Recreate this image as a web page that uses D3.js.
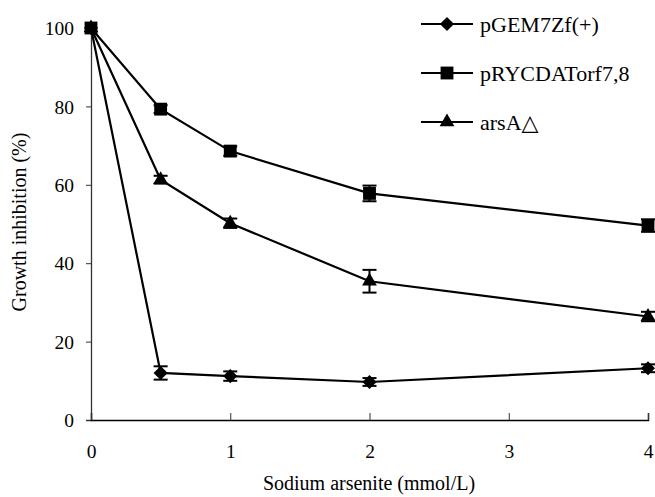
<!DOCTYPE html>
<html><head><meta charset="utf-8">
<script src="https://cdn.jsdelivr.net/npm/d3@7/dist/d3.min.js"></script>
<style>body{margin:0;background:#fff}svg{display:block}
svg text{font-family:"Liberation Serif","Times New Roman",Times,"DejaVu Serif","Noto Serif",serif !important;fill:#000}</style>
</head><body><svg id="c" width="655" height="497"></svg>
<script>
const doses = [0, 0.5, 1, 2, 4];
const seriesNames = ["pGEM7Zf(+)", "pRYCDATorf7,8", "arsA\u25B3"];
const pGEM = [100, 12.0, 11.2, 9.7, 13.2];
const pGEMErr = [0.5, 1.7, 1.2, 1.0, 1.0];
const pRYC = [100, 79.3, 68.6, 57.8, 49.6];
const pRYCErr = [0.5, 1.0, 1.2, 2.0, 1.6];
const arsA = [100, 61.3, 50.2, 35.4, 26.4];
const arsAErr = [0.5, 1.0, 1.2, 2.9, 1.2];
const xTicks = [0, 1, 2, 3, 4];
const yTicks = [0, 20, 40, 60, 80, 100];

const FONT = '"Liberation Serif","Times New Roman",Times,"DejaVu Serif",serif';
const svg = d3.select("#c");
const x = d3.scaleLinear().domain([0, 4]).range([91, 648]);
const y = d3.scaleLinear().domain([0, 100]).range([420, 28]);

const markers = [
  {sym: d3.symbolSquare, size: 100, rot: 45},
  {sym: d3.symbolSquare, size: 165, rot: 0},
  {sym: d3.symbolTriangle, size: 95, rot: 0}
];

const yAxis = d3.axisLeft(y).tickValues(yTicks).tickFormat(d3.format("d")).tickSize(5).tickPadding(12);
const gy = svg.append("g").attr("transform", "translate(91,0)").call(yAxis).attr("font-family", FONT);
gy.select(".domain").attr("stroke", "#333").attr("stroke-width", 1.3);
gy.selectAll(".tick line").attr("stroke", "#333");
gy.selectAll("text").attr("font-size", 19.5).attr("fill", "#000").attr("dy", "0.34em");

const xAxis = d3.axisBottom(x).tickValues(xTicks).tickFormat(d3.format("d")).tickSize(-7).tickPadding(24);
const gx = svg.append("g").attr("transform", "translate(0,420)").call(xAxis).attr("font-family", FONT);
gx.select(".domain").attr("stroke", "#000").attr("stroke-width", 1.5);
gx.selectAll(".tick line").attr("stroke", "#333");
gx.selectAll("text").attr("font-size", 19.5).attr("fill", "#000");

svg.append("text").attr("x", 369).attr("y", 490).attr("text-anchor", "middle")
  .attr("font-family", FONT).attr("font-size", 20).text("Sodium arsenite (mmol/L)");
svg.append("text").attr("transform", "translate(26,222) rotate(-90)").attr("text-anchor", "middle")
  .attr("font-family", FONT).attr("font-size", 20).text("Growth inhibition (%)");

const data = [[pGEM, pGEMErr, 0], [arsA, arsAErr, 2], [pRYC, pRYCErr, 1]];
const line = d3.line().x(d => x(d.x)).y(d => y(d.v));

data.forEach(([vals, errs, i]) => {
  const pts = doses.map((d, k) => ({x: d, v: vals[k], e: errs[k]}));
  const g = svg.append("g");
  g.append("path").datum(pts).attr("d", line).attr("fill", "none").attr("stroke", "#000").attr("stroke-width", 2.2);
  const eb = g.selectAll(".eb").data(pts.slice(1)).enter().append("g");
  eb.append("line").attr("x1", d => x(d.x)).attr("x2", d => x(d.x)).attr("y1", d => y(d.v + d.e)).attr("y2", d => y(d.v - d.e)).attr("stroke", "#000").attr("stroke-width", 2);
  eb.append("line").attr("x1", d => x(d.x) - 7).attr("x2", d => x(d.x) + 7).attr("y1", d => y(d.v + d.e)).attr("y2", d => y(d.v + d.e)).attr("stroke", "#000").attr("stroke-width", 2);
  eb.append("line").attr("x1", d => x(d.x) - 7).attr("x2", d => x(d.x) + 7).attr("y1", d => y(d.v - d.e)).attr("y2", d => y(d.v - d.e)).attr("stroke", "#000").attr("stroke-width", 2);
  const m = markers[i];
  g.selectAll(".m").data(pts).enter().append("path")
    .attr("transform", d => `translate(${x(d.x)},${y(d.v)}) rotate(${m.rot})`)
    .attr("d", d3.symbol().type(m.sym).size(m.size)).attr("fill", "#000");
});

const legY = [24, 73, 122];
seriesNames.forEach((name, i) => {
  const g = svg.append("g").attr("transform", `translate(0,${legY[i]})`);
  g.append("line").attr("x1", 421).attr("x2", 473).attr("y1", 0).attr("y2", 0).attr("stroke", "#000").attr("stroke-width", 2.2);
  const m = markers[i];
  g.append("path").attr("transform", `translate(447,0) rotate(${m.rot})`).attr("d", d3.symbol().type(m.sym).size(m.size)).attr("fill", "#000");
  g.append("text").attr("x", 480).attr("y", 0).attr("dy", "0.35em").attr("font-family", FONT).attr("font-size", 22).text(name);
});
</script></body></html>
